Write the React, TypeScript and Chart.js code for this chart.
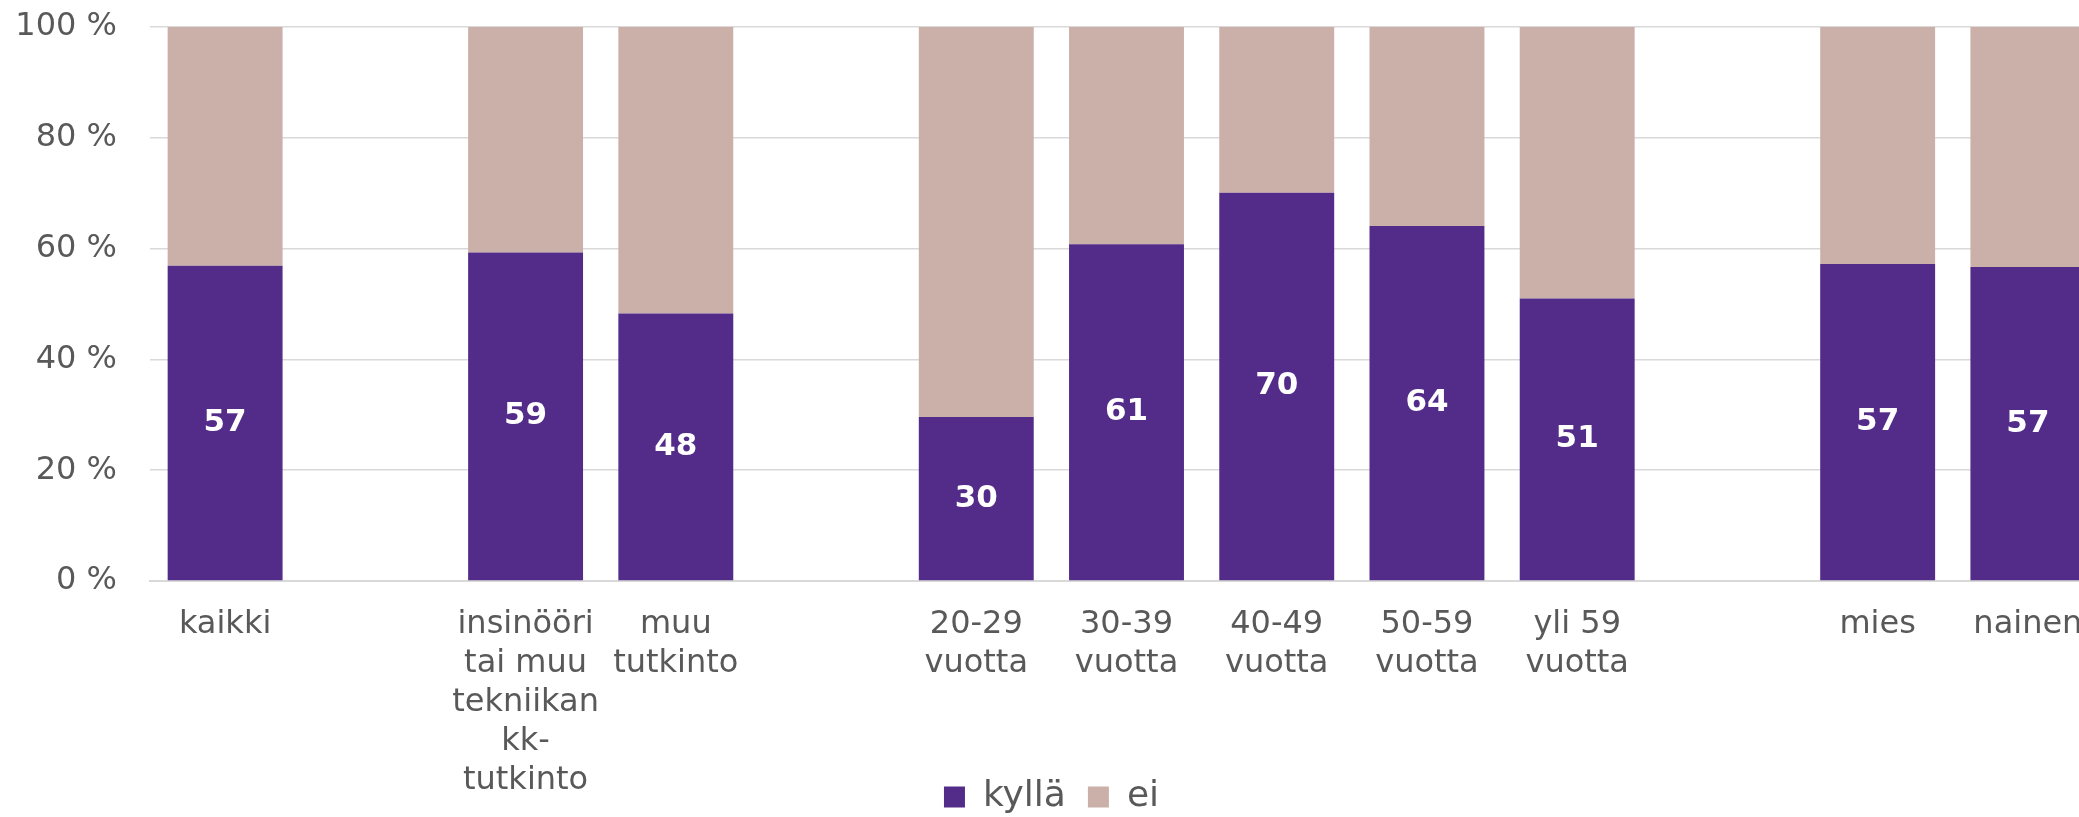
import React, { useEffect, useRef } from "react";
import { Chart, registerables } from "chart.js";

Chart.register(...registerables);

const categories: (string | string[])[] = [
  "kaikki",
  "",
  ["insinööri", "tai muu", "tekniikan", "kk-", "tutkinto"],
  ["muu", "tutkinto"],
  "",
  ["20-29", "vuotta"],
  ["30-39", "vuotta"],
  ["40-49", "vuotta"],
  ["50-59", "vuotta"],
  ["yli 59", "vuotta"],
  "",
  "mies",
  "nainen",
];

const kyllaValues: (number | null)[] = [56.9, null, 59.3, 48.3, null, 29.6, 60.8, 70.1, 64.1, 51.0, null, 57.2, 56.7];
const eiValues: (number | null)[] = [43.1, null, 40.7, 51.7, null, 70.4, 39.2, 29.9, 35.9, 49.0, null, 42.8, 43.3];

const yTicks = [0, 20, 40, 60, 80, 100];

const seriesNames = ["kyllä", "ei"];
const PURPLE = "#532c8a";
const TAN = "#cbb0a9";
const FONT = "'DejaVu Sans', Verdana, sans-serif";
const TEXT = "#595959";
const BOTTOM_PAD = -8;

const barLabelPlugin = {
  id: "barLabels",
  afterDatasetsDraw(chart: any) {
    const meta = chart.getDatasetMeta(0);
    const ctx = chart.ctx;
    ctx.save();
    ctx.fillStyle = "#ffffff";
    ctx.font = `bold 31px ${FONT}`;
    ctx.textAlign = "center";
    ctx.textBaseline = "middle";
    meta.data.forEach((el: any, i: number) => {
      const v = kyllaValues[i];
      if (v == null) return;
      const { x, y, base } = el.getProps(["x", "y", "base"], true);
      ctx.fillText(String(Math.round(v)), x, (y + base) / 2);
    });
    ctx.restore();
  },
};

export default function App() {
  const ref = useRef<HTMLCanvasElement>(null);
  useEffect(() => {
    if (!ref.current) return;
    const chart = new Chart(ref.current, {
      type: "bar",
      data: {
        labels: categories as any,
        datasets: [
          { label: seriesNames[0], data: kyllaValues, backgroundColor: PURPLE, barPercentage: 0.765, categoryPercentage: 1 },
          { label: seriesNames[1], data: eiValues, backgroundColor: TAN, barPercentage: 0.765, categoryPercentage: 1 },
        ],
      },
      options: {
        animation: false,
        responsive: false,
        maintainAspectRatio: false,
        layout: { padding: { top: 0, left: 0, right: 7, bottom: BOTTOM_PAD } },
        plugins: {
          legend: {
            position: "bottom",
            labels: {
              boxWidth: 21,
              boxHeight: 21,
              padding: 22,
              color: TEXT,
              font: { family: FONT, size: 36 },
            },
          },
          tooltip: { enabled: false },
        },
        scales: {
          x: {
            stacked: true,
            grid: { display: false, drawTicks: false },
            border: { display: true, color: "#d9d9d9", width: 2 },
            ticks: {
              autoSkip: false,
              maxRotation: 0,
              minRotation: 0,
              padding: 24,
              color: TEXT,
              font: { family: FONT, size: 32, lineHeight: 1.22 },
            },
            afterFit: (scale: any) => {
              const lh = scale.chart.legend ? scale.chart.legend.height : 68;
              scale.height = 817 - BOTTOM_PAD - 581 - lh;
              scale._computeLabelArea = () => undefined;
            },
          },
          y: {
            stacked: true,
            min: 0,
            max: 100,
            afterBuildTicks: (scale: any) => {
              scale.ticks = yTicks.map((v) => ({ value: v }));
            },
            grid: { color: "#d9d9d9", lineWidth: 1.5, drawTicks: false },
            border: { display: false },
            ticks: {
              padding: 33,
              color: TEXT,
              font: { family: FONT, size: 32 },
              callback: (v: any) => `${v} %`,
            },
            afterFit: (scale: any) => {
              scale.width = 150;
              scale.paddingTop = 27;
              scale.paddingBottom = 0;
            },
          },
        },
      },
      plugins: [barLabelPlugin],
    });
    return () => chart.destroy();
  }, []);
  return (
    <div style={{ position: "fixed", left: 0, top: 0, width: 2079, height: 817, overflow: "hidden", background: "#fff" }}>
      <canvas ref={ref} width={2110} height={817} style={{ display: "block" }} />
    </div>
  );
}
